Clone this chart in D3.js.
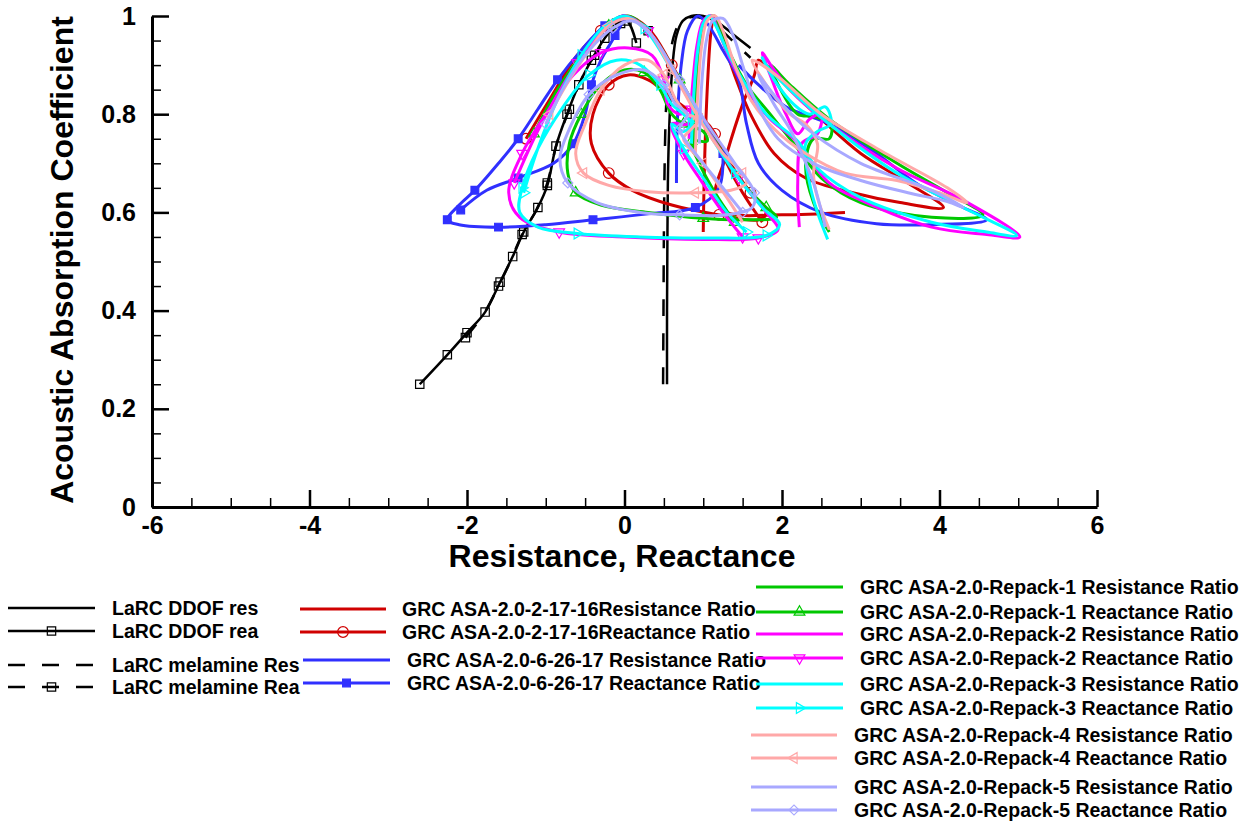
<!DOCTYPE html>
<html>
<head>
<meta charset="utf-8">
<script src="https://cdn.jsdelivr.net/npm/d3@7"></script>
<style>
body { margin: 0; background: white; }
text { font-family: "Liberation Sans", Arial, Helvetica, sans-serif; font-weight: bold; fill: black; }
</style>
</head>
<body>
<div id="canvas"></div>
<script>
const width = 1252;
const height = 822;

// tick labels
const xTicks = [-6, -4, -2, 0, 2, 4, 6];
const yTicks = [0, 0.2, 0.4, 0.6, 0.8, 1];

// LaRC curves [resistance or reactance, absorption]
const ddofRes = [[0.54,0.25],[0.54,0.4],[0.545,0.55],[0.555,0.7],[0.58,0.82],[0.61,0.9],[0.66,0.96],[0.74,0.99],[0.85,1.0],[1.0,1.0],[1.2,0.985],[1.4,0.96],[1.6,0.935]];
const ddofRea = [[-2.6,0.25],[-2.25,0.31],[-2.0,0.355],[-1.77,0.397],[-1.58,0.458],[-1.42,0.51],[-1.28,0.56],[-1.1,0.61],[-0.98,0.655],[-0.87,0.735],[-0.73,0.8],[-0.58,0.86],[-0.42,0.91],[-0.25,0.955],[-0.1,0.985],[0.03,0.99],[0.15,0.945]];
const melRes = [[0.49,0.25],[0.495,0.4],[0.5,0.55],[0.51,0.7],[0.53,0.82],[0.57,0.9],[0.62,0.955],[0.7,0.985],[0.85,0.998],[1.0,0.995],[1.2,0.975],[1.4,0.945],[1.6,0.915]];
const melRea = [[-2.02,0.345],[-1.8,0.39],[-1.6,0.45],[-1.45,0.5],[-1.3,0.555],[-1.12,0.605],[-0.98,0.66],[-0.86,0.74],[-0.7,0.81],[-0.55,0.87],[-0.38,0.92],[-0.2,0.96],[-0.05,0.985],[0.1,0.99],[0.3,0.97]];

// GRC ASA-2.0-2-17-16
const redRes = [[1.0,0.56],[1.02,0.72],[1.06,0.88],[1.1,0.97],[1.14,1.0],[1.25,0.95],[1.42,0.87],[1.6,0.8],[1.9,0.72],[2.3,0.67],[2.9,0.64],[3.5,0.62],[4.05,0.61],[3.6,0.66],[3.0,0.72],[2.5,0.79],[2.1,0.85],[1.8,0.9],[1.7,0.91],[1.65,0.88],[1.5,0.82],[1.3,0.72],[1.15,0.63],[1.3,0.6],[2.0,0.595],[2.8,0.6]];
const redRea = [[-1.25,0.75],[-0.95,0.83],[-0.6,0.92],[-0.3,0.97],[0.0,1.0],[0.3,0.975],[0.6,0.9],[0.95,0.8],[1.3,0.71],[1.6,0.64],[1.8,0.6],[1.7,0.585],[1.2,0.595],[0.6,0.615],[0.1,0.645],[-0.2,0.68],[-0.42,0.74],[-0.4,0.8],[-0.2,0.86],[0.05,0.88],[0.3,0.87],[0.55,0.84],[0.8,0.81],[1.0,0.79],[1.15,0.76],[1.3,0.7],[1.5,0.64],[1.75,0.58]];

// GRC ASA-2.0-6-26-17
const blueRes = [[0.66,0.66],[0.67,0.78],[0.72,0.9],[0.8,0.97],[0.93,1.0],[1.05,0.985],[1.25,0.93],[1.45,0.87],[1.55,0.78],[1.7,0.7],[2.0,0.645],[2.5,0.6],[3.2,0.577],[3.9,0.575],[4.6,0.585],[4.3,0.61],[3.7,0.66],[3.2,0.72],[2.6,0.78],[2.05,0.815],[1.7,0.86],[1.45,0.9]];
const blueRea = [[1.25,0.72],[1.2,0.65],[0.9,0.61],[0.3,0.597],[-0.4,0.585],[-1.0,0.575],[-1.6,0.57],[-2.1,0.575],[-2.25,0.585],[-2.1,0.615],[-1.9,0.645],[-1.6,0.7],[-1.35,0.75],[-1.1,0.81],[-0.85,0.87],[-0.55,0.93],[-0.25,0.98],[0.0,1.0],[-0.12,0.96],[-0.3,0.91],[-0.42,0.86],[-0.5,0.8],[-0.65,0.74],[-0.9,0.7],[-1.35,0.67],[-1.75,0.645],[-2.08,0.605]];

// GRC ASA-2.0-Repack-1 .. 5
const greenRes = [[0.88,0.72],[0.91,0.84],[0.96,0.94],[1.03,0.99],[1.12,1.0],[1.2,0.975],[1.35,0.92],[1.55,0.86],[1.85,0.8],[2.15,0.74],[2.5,0.67],[3.0,0.62],[3.9,0.59],[4.55,0.595],[4.1,0.64],[3.46,0.7],[2.6,0.79],[2.1,0.86],[1.85,0.9],[1.95,0.86],[2.2,0.8],[2.4,0.795],[2.62,0.78],[2.6,0.75],[2.4,0.75],[2.3,0.7],[2.4,0.62],[2.6,0.56]];
const greenRea = [[-1.15,0.76],[-0.85,0.85],[-0.5,0.93],[-0.2,0.98],[0.05,1.0],[0.35,0.96],[0.7,0.87],[1.1,0.76],[1.5,0.66],[1.8,0.61],[1.93,0.59],[1.5,0.585],[1.0,0.588],[0.3,0.6],[-0.3,0.615],[-0.62,0.64],[-0.72,0.68],[-0.7,0.74],[-0.55,0.8],[-0.3,0.86],[0.0,0.89],[0.25,0.885],[0.45,0.85],[0.6,0.8],[0.75,0.78],[1.0,0.765],[1.05,0.745],[0.85,0.745],[0.95,0.7],[1.15,0.64],[1.4,0.58]];
const magentaRes = [[0.82,0.75],[0.86,0.85],[0.92,0.94],[1.0,0.99],[1.1,1.0],[1.18,0.975],[1.32,0.92],[1.55,0.85],[1.85,0.79],[2.15,0.75],[2.6,0.66],[3.0,0.625],[3.9,0.57],[4.6,0.555],[5.02,0.55],[4.3,0.625],[3.46,0.69],[2.6,0.78],[2.19,0.835],[1.9,0.89],[1.75,0.925],[1.85,0.88],[2.05,0.8],[2.2,0.76],[2.35,0.79],[2.5,0.8],[2.45,0.76],[2.25,0.74],[2.2,0.66],[2.22,0.57]];
const magentaRea = [[-1.4,0.66],[-1.12,0.76],[-0.85,0.84],[-0.6,0.905],[-0.3,0.965],[0.0,1.0],[0.3,0.97],[0.65,0.88],[1.05,0.77],[1.45,0.67],[1.8,0.6],[1.95,0.565],[1.7,0.548],[1.0,0.545],[0.0,0.55],[-0.83,0.56],[-1.33,0.59],[-1.47,0.64],[-1.3,0.72],[-1.0,0.8],[-0.65,0.88],[-0.3,0.925],[0.05,0.935],[0.35,0.92],[0.5,0.87],[0.55,0.82],[0.7,0.8],[0.85,0.81],[0.8,0.78],[0.6,0.78],[0.75,0.72],[0.95,0.67],[1.25,0.6],[1.5,0.55]];
const cyanRes = [[0.85,0.74],[0.88,0.84],[0.93,0.93],[1.0,0.985],[1.08,1.0],[1.16,0.98],[1.3,0.93],[1.5,0.87],[1.8,0.8],[2.2,0.745],[2.45,0.69],[3.0,0.63],[3.9,0.58],[4.6,0.56],[4.98,0.553],[4.3,0.61],[3.46,0.68],[2.6,0.78],[2.1,0.85],[1.8,0.9],[1.75,0.915],[1.9,0.87],[2.15,0.82],[2.35,0.8],[2.55,0.815],[2.62,0.78],[2.45,0.765],[2.3,0.74],[2.35,0.66],[2.45,0.6],[2.58,0.545]];
const cyanRea = [[-1.28,0.64],[-1.1,0.73],[-0.85,0.83],[-0.55,0.92],[-0.25,0.98],[0.0,1.0],[0.25,0.975],[0.6,0.89],[1.0,0.78],[1.4,0.68],[1.75,0.61],[1.97,0.575],[1.8,0.553],[1.1,0.548],[0.2,0.55],[-0.6,0.557],[-1.1,0.57],[-1.33,0.6],[-1.3,0.65],[-1.1,0.73],[-0.8,0.81],[-0.45,0.88],[-0.1,0.91],[0.2,0.9],[0.45,0.86],[0.6,0.82],[0.75,0.8],[0.85,0.78],[0.75,0.765],[0.6,0.78],[0.75,0.73],[1.0,0.67],[1.3,0.6],[1.55,0.56]];
const pinkRes = [[0.9,0.72],[0.93,0.84],[0.98,0.94],[1.05,0.99],[1.15,1.0],[1.25,0.97],[1.4,0.9],[1.6,0.83],[1.9,0.77],[2.3,0.72],[2.8,0.68],[3.46,0.665],[4.0,0.64],[4.35,0.62],[4.1,0.65],[3.24,0.727],[2.5,0.8],[2.0,0.87],[1.7,0.905],[1.62,0.91],[1.8,0.86],[2.1,0.8],[2.3,0.78],[2.45,0.74],[2.4,0.68],[2.45,0.63],[2.6,0.565]];
const pinkRea = [[-0.95,0.8],[-0.7,0.87],[-0.45,0.93],[-0.2,0.98],[0.05,0.995],[0.3,0.97],[0.6,0.89],[0.95,0.79],[1.25,0.72],[1.5,0.68],[1.55,0.66],[1.35,0.645],[0.9,0.64],[0.3,0.642],[-0.2,0.655],[-0.52,0.68],[-0.62,0.72],[-0.5,0.78],[-0.3,0.85],[0.0,0.9],[0.3,0.91],[0.5,0.88],[0.65,0.83],[0.8,0.8],[0.95,0.79],[0.85,0.77],[0.75,0.75],[1.0,0.7],[1.3,0.63],[1.5,0.58]];
const lavRes = [[0.95,0.74],[0.98,0.86],[1.04,0.95],[1.12,0.99],[1.25,0.995],[1.38,0.96],[1.5,0.9],[1.65,0.83],[1.95,0.75],[2.4,0.7],[3.0,0.665],[3.6,0.64],[4.1,0.622],[4.3,0.61],[3.9,0.645],[3.0,0.7],[2.4,0.76],[2.0,0.82],[1.75,0.87],[1.7,0.88],[1.9,0.82],[2.1,0.77],[2.25,0.72],[2.4,0.66],[2.55,0.57]];
const lavRea = [[-1.0,0.78],[-0.75,0.86],[-0.45,0.93],[-0.15,0.975],[0.1,0.99],[0.35,0.96],[0.7,0.87],[1.05,0.78],[1.4,0.7],[1.65,0.64],[1.62,0.61],[1.3,0.595],[0.7,0.595],[0.2,0.6],[-0.35,0.62],[-0.72,0.66],[-0.82,0.71],[-0.7,0.77],[-0.45,0.84],[-0.1,0.88],[0.25,0.89],[0.5,0.86],[0.65,0.82],[0.8,0.8],[0.7,0.77],[0.9,0.72],[1.2,0.66],[1.5,0.6]];

const legendLabels = [
    "LaRC DDOF res", "LaRC DDOF rea", "LaRC melamine Res", "LaRC melamine Rea",
    "GRC ASA-2.0-2-17-16Resistance Ratio", "GRC ASA-2.0-2-17-16Reactance Ratio",
    "GRC ASA-2.0-6-26-17 Resistance Ratio", "GRC ASA-2.0-6-26-17 Reactance Ratio",
    "GRC ASA-2.0-Repack-1 Resistance Ratio", "GRC ASA-2.0-Repack-1 Reactance Ratio",
    "GRC ASA-2.0-Repack-2 Resistance Ratio", "GRC ASA-2.0-Repack-2 Reactance Ratio",
    "GRC ASA-2.0-Repack-3 Resistance Ratio", "GRC ASA-2.0-Repack-3 Reactance Ratio",
    "GRC ASA-2.0-Repack-4 Resistance Ratio", "GRC ASA-2.0-Repack-4 Reactance Ratio",
    "GRC ASA-2.0-Repack-5 Resistance Ratio", "GRC ASA-2.0-Repack-5 Reactance Ratio"
];

const red = "#d00000", blue = "#3030ff", green = "#00c800", magenta = "#ff00ff",
      cyan = "#00ffff", pink = "#ffa8a8", lavender = "#a8a8ff";

// markers: shape, rotation, filled
const mSquare = {shape: d3.symbolSquare, size: 70, rot: 0, fill: false};
const series = [
    {data: ddofRes, color: "black", dash: null, w: 2.5, marker: null},
    {data: ddofRea, color: "black", dash: null, w: 2.5, marker: mSquare, every: 1},
    {data: melRes, color: "black", dash: "17,17", w: 2.5, marker: null},
    {data: melRea, color: "black", dash: "17,17", w: 2.5, marker: mSquare, every: 2},
    {data: redRes, color: red, w: 3, marker: null},
    {data: redRea, color: red, w: 3, marker: {shape: d3.symbolCircle, size: 90, rot: 0, fill: false}, every: 3},
    {data: blueRes, color: blue, w: 3, marker: null},
    {data: blueRea, color: blue, w: 3, marker: {shape: d3.symbolSquare, size: 60, rot: 0, fill: true}, every: 2},
    {data: greenRes, color: green, w: 3, marker: null},
    {data: greenRea, color: green, w: 3, marker: {shape: d3.symbolTriangle, size: 50, rot: 0, fill: false}, every: 3},
    {data: magentaRes, color: magenta, w: 3, marker: null},
    {data: magentaRea, color: magenta, w: 3, marker: {shape: d3.symbolTriangle, size: 50, rot: 180, fill: false}, every: 3},
    {data: cyanRes, color: cyan, w: 3, marker: null},
    {data: cyanRea, color: cyan, w: 3, marker: {shape: d3.symbolTriangle, size: 50, rot: 90, fill: false}, every: 3},
    {data: pinkRes, color: pink, w: 3, marker: null},
    {data: pinkRea, color: pink, w: 3, marker: {shape: d3.symbolTriangle, size: 50, rot: -90, fill: false}, every: 3},
    {data: lavRes, color: lavender, w: 3, marker: null},
    {data: lavRea, color: lavender, w: 3, marker: {shape: d3.symbolSquare, size: 50, rot: 45, fill: false}, every: 3}
];

// legend layout: line start, line end, text x, row y
const legendPos = [
    [8, 95, 112, 608], [8, 95, 112, 631], [8, 95, 112, 665], [8, 95, 112, 687],
    [300, 386, 402, 609], [300, 386, 402, 632], [303, 390, 407, 660], [303, 390, 407, 683],
    [756, 843, 860, 587], [756, 843, 860, 612], [756, 843, 860, 634], [756, 843, 860, 658],
    [756, 843, 860, 684], [756, 843, 860, 708], [751, 837, 854, 735], [751, 837, 854, 758],
    [751, 837, 854, 787], [751, 837, 854, 810]
];

const svg = d3.select("#canvas")
    .append("svg")
    .attr("width", width)
    .attr("height", height);

svg.append("rect")
    .attr("width", width)
    .attr("height", height)
    .attr("fill", "white");

const x = d3.scaleLinear().domain([-6, 6]).range([152, 1097]);
const y = d3.scaleLinear().domain([0, 1]).range([507, 16]);

const xMinor = d3.range(-6, 6.001, 0.5).filter(v => Math.abs(v % 2) > 0.01);
const yMinor = d3.range(0, 1.001, 0.05).filter(v => Math.abs(Math.round(v * 100) % 20) > 0.5);

// minor ticks
svg.append("g")
    .attr("transform", "translate(0,507)")
    .call(d3.axisBottom(x).tickValues(xMinor).tickSize(-9).tickSizeOuter(0).tickFormat(""))
    .call(g => g.select(".domain").remove())
    .selectAll("line").attr("stroke-width", 1.5);
svg.append("g")
    .attr("transform", "translate(152,0)")
    .call(d3.axisLeft(y).tickValues(yMinor).tickSize(-9).tickSizeOuter(0).tickFormat(""))
    .call(g => g.select(".domain").remove())
    .selectAll("line").attr("stroke-width", 1.5);

// major ticks and labels
let xAxis = svg.append("g")
    .attr("transform", "translate(0,507)")
    .call(d3.axisBottom(x).tickValues(xTicks).tickSize(-17).tickSizeOuter(0).tickPadding(9).tickFormat(d => String(d)));
let yAxis = svg.append("g")
    .attr("transform", "translate(152,0)")
    .call(d3.axisLeft(y).tickValues(yTicks).tickSize(-17).tickSizeOuter(0).tickPadding(16).tickFormat(d => String(d)));

[xAxis, yAxis].forEach(g => {
    g.select(".domain").attr("stroke-width", 3);
    g.selectAll(".tick line").attr("stroke-width", 2.5);
    g.selectAll("text").attr("font-size", 25).attr("font-family", null).attr("fill", "black");
});

svg.append("text")
    .attr("x", 622)
    .attr("y", 567)
    .attr("text-anchor", "middle")
    .attr("font-size", 32)
    .text("Resistance, Reactance");

svg.append("text")
    .attr("transform", "translate(73,260) rotate(-90)")
    .attr("text-anchor", "middle")
    .attr("font-size", 32)
    .text("Acoustic Absorption Coefficient");

// curves
const line = d3.line()
    .x(d => x(d[0]))
    .y(d => y(d[1]))
    .curve(d3.curveCatmullRom.alpha(0.5));

function drawMarker(g, s, px, py) {
    g.append("path")
        .attr("d", d3.symbol().type(s.marker.shape).size(s.marker.size)())
        .attr("transform", "translate(" + px + "," + py + ") rotate(" + s.marker.rot + ")")
        .attr("fill", s.marker.fill ? s.color : "none")
        .attr("stroke", s.color)
        .attr("stroke-width", 1.2);
}

let plot = svg.append("g");
for (let i = 0; i < series.length; i++) {
    let s = series[i];
    plot.append("path")
        .attr("d", line(s.data))
        .attr("fill", "none")
        .attr("stroke", s.color)
        .attr("stroke-width", s.w)
        .attr("stroke-dasharray", s.dash)
        .attr("stroke-linejoin", "round");

    if (s.marker) {
        s.data.forEach((d, j) => {
            if (j % s.every === 0) drawMarker(plot, s, x(d[0]), y(d[1]));
        });
    }
}

// legend
let legend = svg.append("g");
for (let i = 0; i < series.length; i++) {
    let s = series[i];
    let p = legendPos[i];
    legend.append("line")
        .attr("x1", p[0]).attr("x2", p[1])
        .attr("y1", p[3]).attr("y2", p[3])
        .attr("stroke", s.color)
        .attr("stroke-width", s.w)
        .attr("stroke-dasharray", s.dash);
    if (s.marker) drawMarker(legend, s, (p[0] + p[1]) / 2, p[3]);
    legend.append("text")
        .attr("x", p[2])
        .attr("y", p[3] + 7)
        .attr("font-size", 19.5)
        .text(legendLabels[i]);
}
</script>
</body>
</html>
